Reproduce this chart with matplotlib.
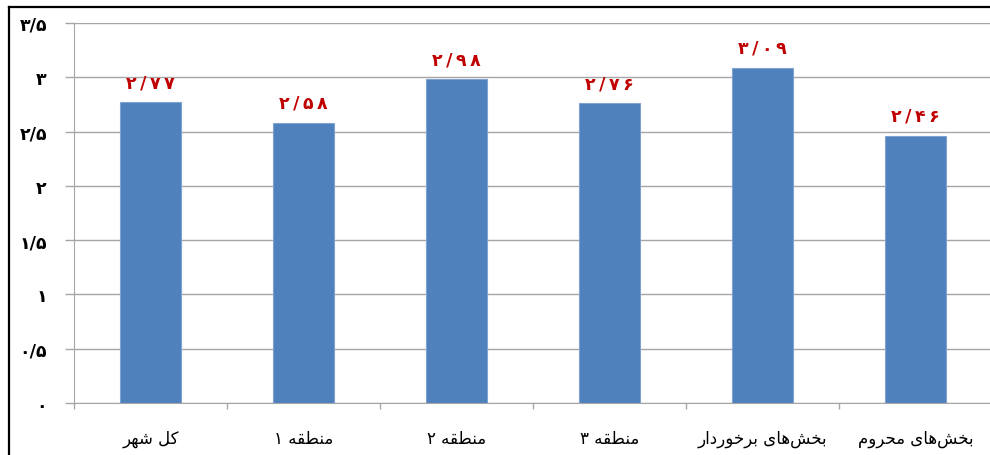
import numpy as np
import matplotlib
matplotlib.use('Agg')
import matplotlib.pyplot as plt
from matplotlib.lines import Line2D

# data
categories = ['کل شهر', 'منطقه ۱', 'منطقه ۲', 'منطقه ۳', 'بخش‌های برخوردار', 'بخش‌های محروم']
values = [2.77, 2.58, 2.98, 2.76, 3.09, 2.46]
yticks = [0, 0.5, 1, 1.5, 2, 2.5, 3, 3.5]

# presentation forms (iso, fin, init, med) so the letters join without a shaping library
FORMS = {
    'ا': ('\ufe8d', '\ufe8e'),
    'ب': ('\ufe8f', '\ufe90', '\ufe91', '\ufe92'),
    'ح': ('\ufea1', '\ufea2', '\ufea3', '\ufea4'),
    'خ': ('\ufea5', '\ufea6', '\ufea7', '\ufea8'),
    'د': ('\ufea9', '\ufeaa'),
    'ر': ('\ufead', '\ufeae'),
    'ش': ('\ufeb5', '\ufeb6', '\ufeb7', '\ufeb8'),
    'ط': ('\ufec1', '\ufec2', '\ufec3', '\ufec4'),
    'ق': ('\ufed5', '\ufed6', '\ufed7', '\ufed8'),
    'ل': ('\ufedd', '\ufede', '\ufedf', '\ufee0'),
    'م': ('\ufee1', '\ufee2', '\ufee3', '\ufee4'),
    'ن': ('\ufee5', '\ufee6', '\ufee7', '\ufee8'),
    'ه': ('\ufee9', '\ufeea', '\ufeeb', '\ufeec'),
    'و': ('\ufeed', '\ufeee'),
    'ک': ('\ufb8e', '\ufb8f', '\ufb90', '\ufb91'),
    'ی': ('\ufbfc', '\ufbfd', '\ufbfe', '\ufbff'),
}

def shape(s):
    out = []
    for i, ch in enumerate(s):
        if ch not in FORMS:
            if ch != '\u200c':
                out.append(ch)
            continue
        prev = s[i - 1] if i > 0 else ''
        nxt = s[i + 1] if i + 1 < len(s) else ''
        jp = prev in FORMS and len(FORMS[prev]) == 4
        jn = nxt in FORMS and len(FORMS[ch]) == 4
        f = FORMS[ch]
        if jp and jn:
            out.append(f[3])
        elif jp:
            out.append(f[1])
        elif jn:
            out.append(f[2])
        else:
            out.append(f[0])
    return ''.join(reversed(out))

def fa_num(v, fmt, sep=''):
    s = fmt % v
    s = s.translate(str.maketrans('0123456789.', '۰۱۲۳۴۵۶۷۸۹/'))
    return sep.join(s)

plt.rcParams['font.family'] = ['DejaVu Sans']

fig = plt.figure(figsize=(9.9, 4.56), dpi=100)
ax = fig.add_axes([74 / 990, 1 - 404 / 456, 918 / 990, 380 / 456])

grid_c = '#A6A6A6'
x = np.arange(len(values))
ax.bar(x, values, width=0.4, color='#4F81BD', edgecolor='#7FA3D0', linewidth=0.8, zorder=3)

for xi, v in zip(x, values):
    ax.annotate(fa_num(v, '%.2f', '\u2009'), (xi, v), xytext=(0, 8), textcoords='offset points',
                ha='center', va='bottom', color='#C00000', fontsize=12.5, fontweight='bold')

ax.set_xlim(-0.5, 5.5)
ax.set_ylim(0, 3.5)
ax.set_yticks(yticks)
ax.set_yticklabels([fa_num(t, '%g') for t in yticks], fontsize=12.5, fontweight='bold')
ax.yaxis.grid(True, color=grid_c, linewidth=1)
ax.set_axisbelow(True)
ax.tick_params(axis='y', length=6.5, color=grid_c, width=1, pad=13)

ax.set_xticks(x)
ax.set_xticklabels([shape(c) for c in categories], fontsize=12)
ax.set_xticks(np.arange(-0.5, 6, 1), minor=True)
ax.tick_params(axis='x', which='major', length=0, pad=19)
ax.tick_params(axis='x', which='minor', length=4, color=grid_c, width=1)

for side in ['top', 'right']:
    ax.spines[side].set_visible(False)
for side in ['left', 'bottom']:
    ax.spines[side].set_color(grid_c)

# chart outline (only top and left are inside the picture)
fig.add_artist(Line2D([9 / 990, 1], [1 - 8 / 456, 1 - 8 / 456], color='black', linewidth=1.6))
fig.add_artist(Line2D([9 / 990, 9 / 990], [0, 1 - 8 / 456], color='black', linewidth=1.6))

fig.savefig('out.png', dpi=100)
